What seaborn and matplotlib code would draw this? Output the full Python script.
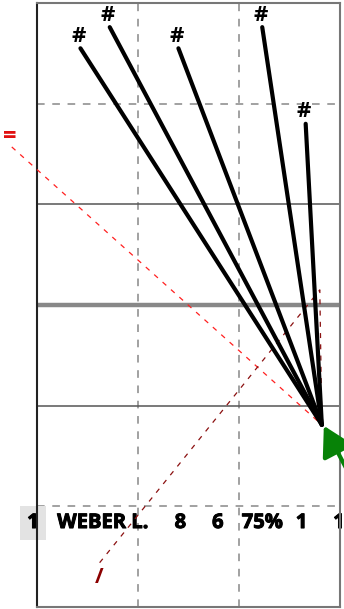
import matplotlib
matplotlib.use("Agg")
import matplotlib.pyplot as plt
import matplotlib.patheffects as pe
import seaborn as sns
import pandas as pd

sns.set_theme(style="white")
plt.rcParams['font.family'] = ['Open Sans', 'DejaVu Sans']
plt.rcParams['text.color'] = 'black'

# data
shot_x = [0.43, 0.72, 1.40, 2.23, 2.66]
shot_y = [5.55, 5.76, 5.55, 5.76, 4.80]
shot_labels = ["#", "#", "#", "#", "#"]
target_x, target_y = 2.82, 1.81

red_path_x = [-0.25, 2.82]
red_path_y = [4.57, 1.81]
red_label = "="

dark_path_x = [0.62, 2.80, 2.82]
dark_path_y = [0.44, 3.15, 1.81]
dark_label = "/"

arrow_from = (3.06, 1.38)
arrow_to = (2.84, 1.80)

row_texts = ["WEBER L.", "8", "6", "75%", "1", "1"]
row_x = [0.20, 1.42, 1.79, 2.23, 2.62, 2.99]
rank_label = "1"

fig = plt.figure(figsize=(3.44, 6.09), dpi=100)
ax = fig.add_axes([0.1076, 0.0033, 0.8808, 0.9918])
ax.set_xlim(0, 3)
ax.set_ylim(0, 6)
ax.set_xticks([]); ax.set_yticks([])

# field lines
for xv in [1, 2]:
    ax.axvline(xv, color='#888888', lw=1.1, dashes=(5, 5), zorder=1)
for yv in [1, 5]:
    ax.axhline(yv, color='#888888', lw=1.1, dashes=(5, 5), zorder=1)
for yv in [2, 4]:
    ax.axhline(yv, color='#555555', lw=1.1, zorder=1)
ax.axhline(3, color='#888888', lw=3.2, zorder=1)

for s in ax.spines.values():
    s.set_color('#777777'); s.set_linewidth(1.5)
ax.spines['left'].set_color('#222222')

heavy = [pe.withStroke(linewidth=0.7, foreground='black')]

# row of stats
ty = 0.834
ax.text(-0.04, ty, rank_label, fontsize=14.5, fontweight='bold', color='black',
        ha='center', va='center', clip_on=False, zorder=2, path_effects=heavy,
        bbox=dict(boxstyle='square,pad=0.35', facecolor='#e3e3e3', edgecolor='none'))
for i, (t, xv) in enumerate(zip(row_texts, row_x)):
    ax.text(xv, ty, t, fontsize=14.5, fontweight='bold', color='black',
            ha='left' if i == 0 else 'center', va='center', clip_on=False, zorder=2,
            path_effects=heavy)

# red dashed path
sns.lineplot(x=red_path_x, y=red_path_y, sort=False, estimator=None, ax=ax,
             color='#ff2020', lw=0.9, zorder=3)
ax.lines[-1].set_dashes((4, 5))
ax.lines[-1].set_clip_on(False)
ax.text(red_path_x[0] - 0.02, red_path_y[0] + 0.1, red_label, color='#e01010',
        fontsize=17, fontweight='bold', ha='center', va='center', clip_on=False)

# dark red path
sns.lineplot(x=dark_path_x, y=dark_path_y, sort=False, estimator=None, ax=ax,
             color='#8b1010', lw=0.9, zorder=3)
ax.lines[-1].set_dashes((4, 5))
ax.text(dark_path_x[0], dark_path_y[0] - 0.15, dark_label, color='#8b0000',
        fontsize=15, fontweight='bold', ha='center', va='center')

# shots
for sx, sy, lab in zip(shot_x, shot_y, shot_labels):
    sns.lineplot(x=[sx, target_x], y=[sy, target_y], sort=False, estimator=None,
                 ax=ax, color='black', lw=3, zorder=4)
    ax.text(sx - 0.02, sy + 0.12, lab, color='black', fontsize=16,
            fontweight='bold', ha='center', va='center')

# green arrow
ax.annotate('', xy=arrow_to, xytext=arrow_from,
            arrowprops=dict(arrowstyle='-|>,head_length=1.5,head_width=0.85',
                            color='#078207', lw=3, shrinkA=0, shrinkB=0),
            annotation_clip=False, zorder=5)

fig.savefig('out.png', dpi=100)
